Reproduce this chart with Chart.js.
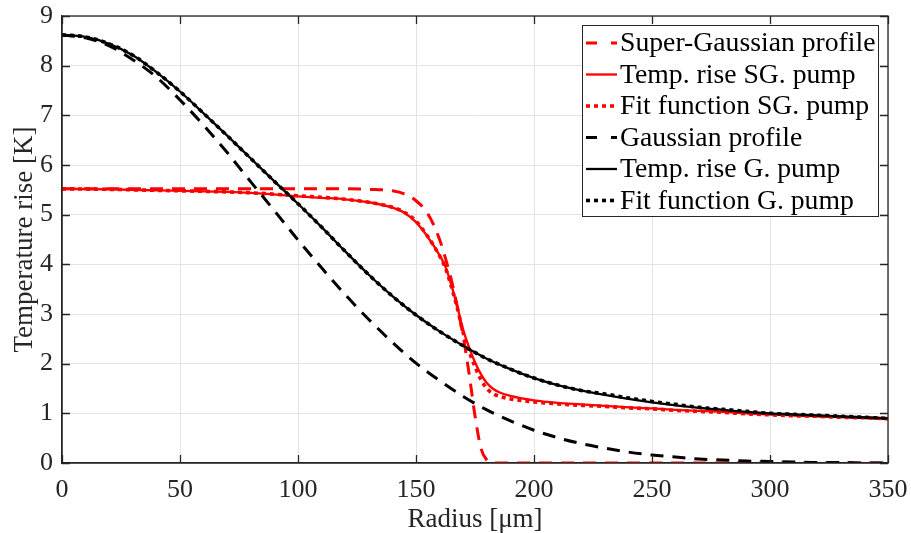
<!DOCTYPE html>
<html>
<head>
<meta charset="utf-8">
<script src="https://cdn.jsdelivr.net/npm/chart.js@4.4.1/dist/chart.umd.min.js"></script>
<style>
  html, body { margin: 0; padding: 0; background: #fff; }
  #wrap { width: 911px; height: 533px; }
</style>
</head>
<body>
<div id="wrap"><canvas id="myChart" width="911" height="533"></canvas></div>
<script>
// Radius samples (um) for the Gaussian pump curves
const radius = [0, 10, 20, 30, 40, 50, 60, 70, 80, 90, 100, 110, 120, 130, 140, 150, 160, 170,
    180, 190, 200, 210, 220, 230, 240, 250, 260, 270, 280, 290, 300, 310, 320, 330, 340, 350];

// Radius samples (um) for the super-Gaussian curves, finer around the edge
const radiusSG = [0, 20, 40, 60, 80, 100, 110, 120, 130, 140, 145, 150, 155, 160, 162.5, 165, 167.5,
    170, 172.5, 175, 177.5, 180, 182.5, 185, 190, 200, 210, 220, 230, 240, 250, 260, 270, 280,
    290, 300, 310, 320, 330, 340, 350];

// Temperature rise [K]
const sgProfile = [5.52, 5.52, 5.52, 5.52, 5.52, 5.52, 5.52, 5.52, 5.51, 5.48, 5.42, 5.28, 5.02, 4.50,
    4.12, 3.68, 3.15, 2.55, 1.80, 0.95, 0.30, 0.06, 0, 0, 0, 0, 0, 0, 0, 0, 0, 0, 0, 0, 0, 0, 0, 0, 0, 0, 0];
const sgTemp = [5.52, 5.51, 5.49, 5.47, 5.44, 5.37, 5.34, 5.31, 5.25, 5.14, 5.04, 4.85, 4.55, 4.18,
    3.95, 3.58, 3.15, 2.68, 2.33, 2.03, 1.79, 1.61, 1.50, 1.43, 1.35, 1.26, 1.21, 1.18, 1.15, 1.12,
    1.10, 1.07, 1.05, 1.03, 1.00, 0.98, 0.96, 0.94, 0.93, 0.91, 0.90];
const sgFit = [5.52, 5.51, 5.49, 5.47, 5.44, 5.38, 5.35, 5.31, 5.25, 5.15, 5.05, 4.87, 4.56, 4.17,
    3.92, 3.55, 3.12, 2.62, 2.25, 1.94, 1.68, 1.50, 1.40, 1.35, 1.29, 1.23, 1.19, 1.16, 1.14, 1.11,
    1.09, 1.06, 1.04, 1.02, 0.99, 0.97, 0.95, 0.94, 0.92, 0.91, 0.89];

const gProfile = [8.62, 8.56, 8.40, 8.12, 7.77, 7.31, 6.80, 6.25, 5.66, 5.08, 4.49, 3.93, 3.39, 2.89,
    2.43, 2.01, 1.66, 1.34, 1.07, 0.85, 0.66, 0.51, 0.39, 0.30, 0.22, 0.16, 0.12, 0.08, 0.06, 0.04,
    0.03, 0.02, 0.01, 0.01, 0.00, 0.00];
const gTemp = [8.62, 8.58, 8.44, 8.21, 7.87, 7.48, 7.04, 6.59, 6.13, 5.67, 5.22, 4.75, 4.26, 3.79,
    3.36, 2.98, 2.65, 2.36, 2.10, 1.89, 1.71, 1.57, 1.46, 1.37, 1.29, 1.22, 1.16, 1.11, 1.07, 1.03,
    1.00, 0.98, 0.96, 0.94, 0.92, 0.90];
const gFit = [8.62, 8.58, 8.44, 8.21, 7.87, 7.48, 7.04, 6.59, 6.13, 5.67, 5.22, 4.75, 4.26, 3.79,
    3.36, 2.98, 2.65, 2.36, 2.10, 1.89, 1.71, 1.57, 1.46, 1.39, 1.31, 1.24, 1.18, 1.12, 1.08, 1.04,
    1.00, 0.98, 0.96, 0.94, 0.92, 0.90];

const labels = ['Super-Gaussian profile', 'Temp. rise SG. pump', 'Fit function SG. pump',
    'Gaussian profile', 'Temp. rise G. pump', 'Fit function G. pump'];

const xTicks = [0, 50, 100, 150, 200, 250, 300, 350];
const yTicks = [0, 1, 2, 3, 4, 5, 6, 7, 8, 9];

const FONT = 'Liberation Serif';
const AXIS = '#262626';
const DASH = [13, 9];
const DOT = [4, 4];

function pts(xs, ys) {
    return xs.map((x, i) => ({ x: x, y: ys[i] }));
}

function series(i, xs, ys, color, kind) {
    const ds = {
        label: labels[i],
        data: pts(xs, ys),
        borderColor: color,
        backgroundColor: color,
        fill: false,
        pointRadius: 0,
        cubicInterpolationMode: 'monotone',
        order: 6 - i, // later series on top, as in the original
        borderWidth: 2.3,
        borderDash: []
    };
    if (kind === 'dash') { ds.borderWidth = 3; ds.borderDash = DASH; }
    if (kind === 'dot') { ds.borderWidth = 3.6; ds.borderDash = DOT; }
    return ds;
}

// no automatic label overflow padding, the layout padding sets the plot box
function noPad(s) {
    s.paddingLeft = 0; s.paddingRight = 0; s.paddingTop = 0; s.paddingBottom = 0;
}

// frame, inward tick marks and the boxed legend in the upper right
const boxLegend = {
    id: 'boxLegend',
    afterDraw(chart) {
        const ctx = chart.ctx;
        const a = chart.chartArea;
        const sx = chart.scales.x, sy = chart.scales.y;
        ctx.save();
        ctx.strokeStyle = AXIS;
        ctx.lineWidth = 1.3;
        ctx.setLineDash([]);
        ctx.beginPath();
        xTicks.forEach(v => {
            const px = Math.round(sx.getPixelForValue(v)) + 0.5;
            ctx.moveTo(px, a.bottom); ctx.lineTo(px, a.bottom - 8);
            ctx.moveTo(px, a.top); ctx.lineTo(px, a.top + 8);
        });
        yTicks.forEach(v => {
            const py = Math.round(sy.getPixelForValue(v)) + 0.5;
            ctx.moveTo(a.left, py); ctx.lineTo(a.left + 8, py);
            ctx.moveTo(a.right, py); ctx.lineTo(a.right - 8, py);
        });
        ctx.stroke();
        ctx.strokeRect(a.left, a.top, a.right - a.left, a.bottom - a.top);

        // legend
        const bx = 582, by = 25, bw = 296, bh = 191;
        ctx.fillStyle = '#fff';
        ctx.fillRect(bx, by, bw, bh);
        ctx.lineWidth = 1;
        ctx.strokeStyle = AXIS;
        ctx.strokeRect(bx + 0.5, by + 0.5, bw, bh);
        ctx.font = '27.7px "' + FONT + '"';
        ctx.textBaseline = 'middle';
        chart.data.datasets.forEach((ds, i) => {
            const cy = by + 18 + i * 31.5;
            ctx.strokeStyle = ds.borderColor;
            ctx.lineWidth = ds.borderWidth;
            ctx.setLineDash(ds.borderDash[0] > 5 ? [11, 14] : ds.borderDash);
            ctx.beginPath();
            ctx.moveTo(bx + 4, cy);
            ctx.lineTo(bx + 35, cy);
            ctx.stroke();
            ctx.setLineDash([]);
            ctx.fillStyle = '#000';
            ctx.fillText(ds.label, bx + 38, cy + 1);
        });
        ctx.restore();
    }
};

const ctx = document.getElementById('myChart').getContext('2d');
new Chart(ctx, {
    type: 'line',
    data: {
        datasets: [
            series(0, radiusSG, sgProfile, '#ff0000', 'dash'),
            series(1, radiusSG, sgTemp, '#ff0000', 'solid'),
            series(2, radiusSG, sgFit, '#ff0000', 'dot'),
            series(3, radius, gProfile, '#000000', 'dash'),
            series(4, radius, gTemp, '#000000', 'solid'),
            series(5, radius, gFit, '#000000', 'dot')
        ]
    },
    options: {
        responsive: false,
        animation: false,
        layout: { padding: { top: 16, right: 23, left: 0, bottom: 0 } },
        plugins: {
            legend: { display: false },
            tooltip: { enabled: false }
        },
        scales: {
            x: {
                type: 'linear',
                min: 0,
                max: 350,
                afterBuildTicks: s => { s.ticks = xTicks.map(v => ({ value: v })); },
                afterFit: s => { s.height = 70; noPad(s); },
                ticks: { font: { family: FONT, size: 26 }, color: AXIS, padding: 12, maxRotation: 0 },
                grid: { color: '#e3e3e3', drawTicks: false },
                border: { display: true, color: AXIS, width: 1.3 },
                title: {
                    display: true,
                    text: 'Radius [\u03bcm]',
                    font: { family: FONT, size: 27, lineHeight: 1 },
                    color: AXIS,
                    padding: { top: 0, bottom: 0 }
                }
            },
            y: {
                min: 0,
                max: 9,
                afterBuildTicks: s => { s.ticks = yTicks.map(v => ({ value: v })); },
                afterFit: s => { s.width = 62; noPad(s); },
                ticks: { font: { family: FONT, size: 26 }, color: AXIS, padding: 9 },
                grid: { color: '#e3e3e3', drawTicks: false },
                border: { display: true, color: AXIS, width: 1.3 },
                title: {
                    display: true,
                    text: 'Temperature rise [K]',
                    font: { family: FONT, size: 27, lineHeight: 1 },
                    color: AXIS,
                    padding: { top: 11, bottom: 0 }
                }
            }
        }
    },
    plugins: [boxLegend]
});
</script>
</body>
</html>
